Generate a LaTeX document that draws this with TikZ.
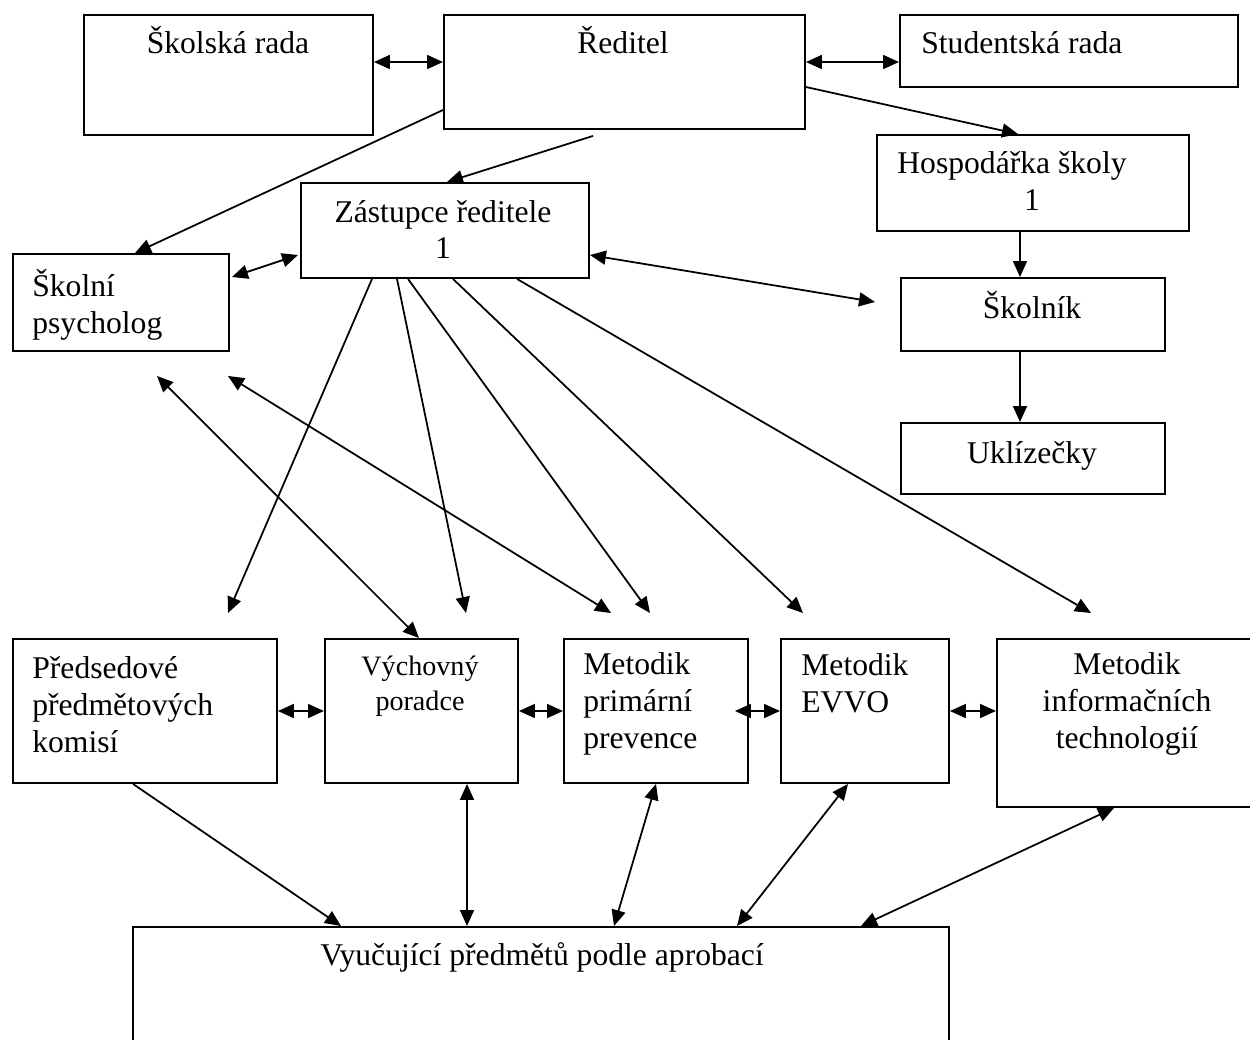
\documentclass[tikz,border=0pt]{standalone}
\usepackage{fontspec}
\setmainfont{Liberation Serif}
\usetikzlibrary{arrows.meta,calc}
\tikzset{
  x=0.02cm, y=-0.02cm,
  box/.style={draw, line width=1.1pt, rectangle, inner sep=0pt, anchor=north west},
  txt/.style={inner sep=0pt, font=\fontsize{18}{21}\selectfont},
  smalltxt/.style={inner sep=0pt, font=\fontsize{16}{19.9}\selectfont},
  tip/.tip={Triangle[length=0.32cm,width=0.28cm]},
  conn/.style={line width=1pt, -tip},
  dconn/.style={line width=1pt, tip-tip},
}
\newcommand\bbox[5]{\node[box, minimum width=#4*0.02cm, minimum height=#5*0.02cm] (#1) at (#2,#3) {};}
\begin{document}
\begin{tikzpicture}
\useasboundingbox (0,0) rectangle (1250,1039);
% boxes
\bbox{sr}{83}{14}{289}{120}
\bbox{red}{443}{14}{361}{114}
\bbox{stud}{899}{14}{338}{72}
\bbox{hosp}{876}{134}{312}{96}
\bbox{zast}{300}{182}{288}{95}
\bbox{psy}{12}{253}{216}{97}
\bbox{skol}{900}{277}{264}{73}
\bbox{ukl}{900}{422}{264}{71}
\bbox{pred}{12}{638}{264}{144}
\bbox{vych}{324}{638}{193}{144}
\bbox{mpp}{563}{638}{184}{144}
\bbox{evvo}{780}{638}{168}{144}
\bbox{it}{996}{638}{270}{168}
\bbox{vyuc}{132}{926}{816}{140}
% texts (multi-line nodes anchored at the baseline of their last line)
\node[txt, anchor=base] (t-sr) at (228,53) {Školská rada};
\node[txt, anchor=base] (t-red) at (623,53) {Ředitel};
\node[txt, anchor=base west] (t-stud) at (921,53) {Studentská rada};
\node[txt, anchor=base west] (t-hosp) at (897,173) {Hospodářka školy};
\node[txt, anchor=base] (t-hosp1) at (1032,210) {1};
\node[txt, anchor=base] (t-zast) at (443,222) {Zástupce ředitele};
\node[txt, anchor=base] (t-zast1) at (443,258) {1};
\node[txt, anchor=base west, align=left] (t-psy) at (32,333) {Školní\\psycholog};
\node[txt, anchor=base] (t-skol) at (1032,318) {Školník};
\node[txt, anchor=base] (t-ukl) at (1032,463) {Uklízečky};
\node[txt, anchor=base west, align=left] (t-pred) at (32,752) {Předsedové\\předmětových\\komisí};
\node[smalltxt, anchor=base, align=center] (t-vych) at (420,710) {Výchovný\\poradce};
\node[txt, anchor=base west, align=left] (t-mpp) at (583,748) {Metodik\\primární\\prevence};
\node[txt, anchor=base west, align=left] (t-evvo) at (801,712) {Metodik\\EVVO};
\node[txt, anchor=base, align=center] (t-it) at (1127,748) {Metodik\\informačních\\technologií};
\node[txt, anchor=base] (t-vyuc) at (542,965) {Vyučující předmětů podle aprobací};
% free ends
\coordinate (fz) at ($(skol.north west)+(-25,25)$);
\coordinate (fp1) at ($(psy.south west)+(145,24)$);
\coordinate (fp2) at ($(psy.south west)+(216,24)$);
% connectors top
\draw[dconn] ($(sr.north east)+(0,48)$) -- ($(red.north west)+(0,48)$);
\draw[dconn] ($(red.north east)+(0,48)$) -- ($(stud.north west)+(0,48)$);
\draw[conn] ($(red.north west)+(0,96)$) -- ($(psy.north west)+(123,0)$);
\draw[conn] ($(red.south west)+(150,6)$) -- ($(zast.north west)+(147,0)$);
\draw[conn] ($(red.north east)+(0,73)$) -- ($(hosp.north west)+(142,0)$);
\draw[conn] ($(hosp.south west)+(144,0)$) -- ($(skol.north west)+(120,0)$);
\draw[conn] ($(skol.south west)+(120,0)$) -- ($(ukl.north west)+(120,0)$);
\draw[dconn] ($(psy.north east)+(2,24)$) -- ($(zast.north west)+(-2,73)$);
\draw[dconn] ($(zast.north east)+(0,73)$) -- (fz);
% from zastupce down
\draw[conn] ($(zast.south west)+(72,0)$) -- ($(pred.north west)+(216,-25)$);
\draw[conn] ($(zast.south west)+(97,0)$) -- ($(vych.north west)+(142,-25)$);
\draw[conn] ($(zast.south west)+(108,0)$) -- ($(mpp.north west)+(87,-25)$);
\draw[conn] ($(zast.south west)+(153,0)$) -- ($(evvo.north west)+(23,-25)$);
\draw[conn] ($(zast.south west)+(217,0)$) -- ($(it.north west)+(95,-25)$);
% from psycholog
\draw[dconn] (fp1) -- ($(vych.north west)+(95,0)$);
\draw[dconn] (fp2) -- ($(mpp.north west)+(48,-25)$);
% horizontal row
\draw[dconn] ($(pred.north east)+(0,73)$) -- ($(vych.north west)+(0,73)$);
\draw[dconn] ($(vych.north east)+(0,73)$) -- ($(mpp.north west)+(0,73)$);
\draw[dconn] ($(mpp.north east)+(-14,73)$) -- ($(evvo.north west)+(0,73)$);
\draw[dconn] ($(evvo.north east)+(0,73)$) -- ($(it.north west)+(0,73)$);
% to vyucujici
\draw[conn] ($(pred.south west)+(121,0)$) -- ($(vyuc.north west)+(209,0)$);
\draw[dconn] ($(vych.south west)+(143,0)$) -- ($(vyuc.north west)+(335,0)$);
\draw[dconn] ($(mpp.south west)+(93,0)$) -- ($(vyuc.north west)+(482,0)$);
\draw[dconn] ($(evvo.south west)+(68,0)$) -- ($(vyuc.north west)+(605,0)$);
\draw[dconn] ($(it.south west)+(118,0)$) -- ($(vyuc.north west)+(729,0)$);
\end{tikzpicture}
\end{document}
